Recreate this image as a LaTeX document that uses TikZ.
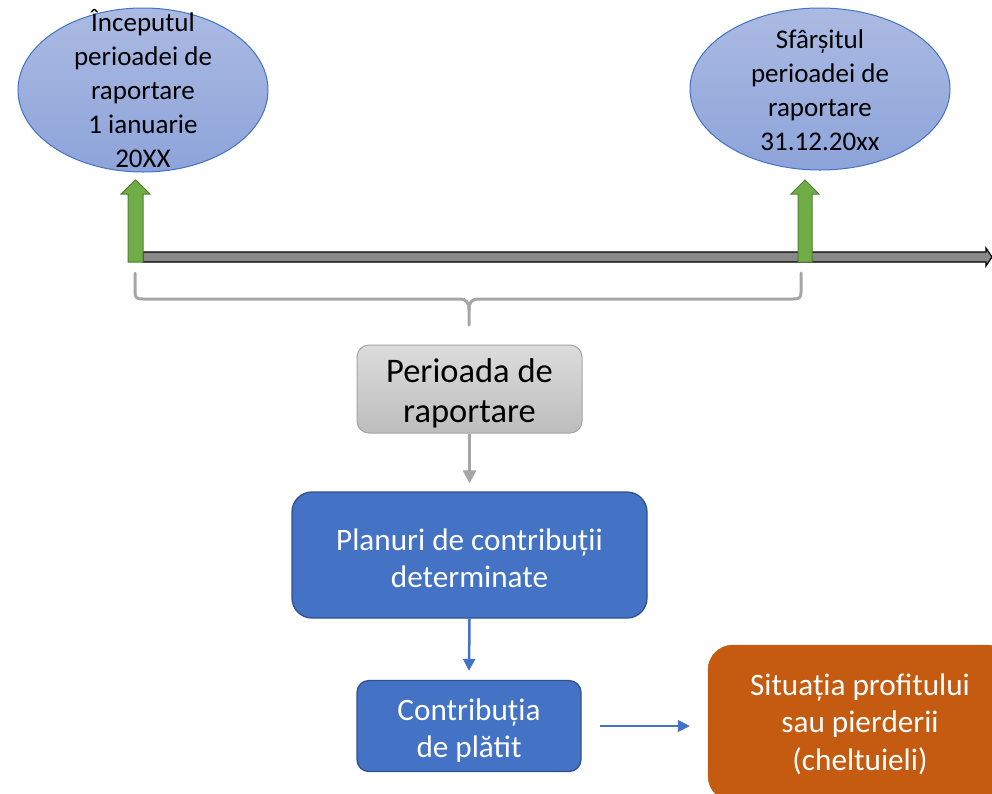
\documentclass[tikz,border=0pt]{standalone}
\usepackage{fontspec}
\setmainfont{Carlito}
\usetikzlibrary{arrows.meta,shapes.geometric}
\definecolor{ellborder}{HTML}{4472C4}
\definecolor{elltop}{HTML}{ABBAE2}
\definecolor{ellbot}{HTML}{8DA4DA}
\definecolor{grn}{HTML}{70AD47}
\definecolor{grnborder}{HTML}{507E32}
\definecolor{barfill}{HTML}{898989}
\definecolor{bracecol}{HTML}{A6A6A6}
\definecolor{grtop}{HTML}{DCDCDC}
\definecolor{grbot}{HTML}{BDBDBD}
\definecolor{grborder}{HTML}{A5A5A5}
\definecolor{bluefill}{HTML}{4472C4}
\definecolor{blueborder}{HTML}{2F528F}
\definecolor{orng}{HTML}{C55A11}
\tikzset{
  ellshape/.style={ellipse, inner sep=0pt, draw=ellborder, line width=1pt, top color=elltop, bottom color=ellbot},
  elltext/.style={font=\fontsize{27}{34}\selectfont, align=center, inner sep=0pt},
  greenarrow/.style={fill=grn, draw=grnborder, line width=1pt, line join=miter},
  timebar/.style={fill=barfill, draw=black, line width=1.2pt},
  bracestyle/.style={draw=bracecol, line width=3pt, line join=round, line cap=round},
  graybox/.style={rectangle, rounded corners=12pt, draw=grborder, line width=1pt, top color=grtop, bottom color=grbot, inner sep=0pt},
  graytext/.style={align=center, font=\fontsize{34.5}{40}\selectfont, inner sep=0pt},
  bluebox/.style={rectangle, draw=blueborder, line width=1.3pt, fill=bluefill, inner sep=0pt},
  whitetext/.style={text=white, align=center, font=\fontsize{31.2}{37}\selectfont, inner sep=0pt},
  orangebox/.style={rectangle, rounded corners=25pt, draw=orng, fill=orng, inner sep=0pt},
  grayarrow/.style={draw=grborder, line width=3pt, -{Triangle[length=13pt,width=13pt]}},
  bluearrow/.style={draw=bluefill, line width=2.5pt, -{Triangle[length=12pt,width=12pt]}},
  bluearrowthin/.style={draw=bluefill, line width=1.5pt, -{Triangle[length=12pt,width=12pt]}}
}
\begin{document}
\begin{tikzpicture}[x=1pt,y=-1pt]
\useasboundingbox (0,0) rectangle (992,793);
\fill[white] (0,0) rectangle (992,793);

% ellipses
\node[ellshape, minimum width=250pt, minimum height=164pt] (e1) at (143,90) {};
\node[elltext] (t1) at (143,89) {Începutul\\perioadei de\\raportare\\1 ianuarie\\20XX};
\node[ellshape, minimum width=260pt, minimum height=162pt] (e2) at (820,89) {};
\node[elltext] (t2) at (820,90) {Sfârșitul\\perioadei de\\raportare\\31.12.20xx};

% timeline
\draw[timebar] (143,252) -- (986,252) -- (986,248) -- (992,257) -- (986,266) -- (986,262) -- (143,262) -- cycle;

% green arrows
\draw[greenarrow] (128,262) -- (128,194) -- (121,194) -- (135.5,180) -- (150,194) -- (143,194) -- (143,262) -- cycle;
\draw[greenarrow] (798,262) -- (798,194) -- (791,194) -- (805,180) -- (819,194) -- (812,194) -- (812,262) -- cycle;

% brace
\draw[bracestyle] (135,273) -- (135,292) .. controls (135,298) and (137,299) .. (143,299) -- (460,299) .. controls (466,299) and (469,302) .. (469,310) -- (469,325);
\draw[bracestyle] (469,310) .. controls (469,302) and (472,299) .. (478,299) -- (793,299) .. controls (799,299) and (801,298) .. (801,292) -- (801,273);

% boxes
\node[graybox, minimum width=225pt, minimum height=88pt] (pr) at (469.5,389) {};
\node[graytext] (prt) at (469.5,393) {Perioada de\\raportare};
\node[bluebox, rounded corners=20pt, minimum width=355pt, minimum height=126pt] (pc) at (469.5,555) {};
\node[whitetext] (pct) at (469.5,558.5) {Planuri de contribuții\\determinate};
\node[bluebox, rounded corners=12pt, minimum width=224pt, minimum height=91pt] (cd) at (469,726) {};
\node[whitetext] (cdt) at (469,730.5) {Contribuția\\de plătit};
\begin{scope}
\clip (0,0) rectangle (992,793);
\node[orangebox, minimum width=304pt, minimum height=156pt] (sp) at (860,723) {};
\end{scope}
\node[whitetext, font=\fontsize{31.2}{37.5}\selectfont] (spt) at (860,724) {Situația profitului\\sau pierderii\\(cheltuieli)};

% connectors
\draw[grayarrow] (pr.south) -- ([yshift=8pt]pc.north);
\draw[bluearrow] (pc.south) -- ([yshift=9pt]cd.north);
\draw[bluearrowthin] ([xshift=18pt]cd.east) -- ([xshift=-18pt]cd.east -| sp.west);
\end{tikzpicture}
\end{document}
